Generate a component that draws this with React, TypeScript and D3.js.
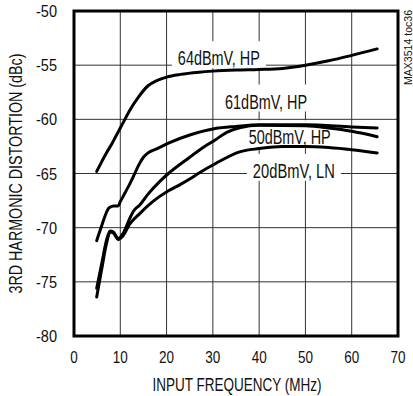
import React from "react";
import * as d3 from "d3";

const xTicks = [0, 10, 20, 30, 40, 50, 60, 70];
const yTicks = [-50, -55, -60, -65, -70, -75, -80];

const s64Freq = [4.9, 6, 7, 8, 9, 10, 11, 12, 14, 16, 18, 20, 23, 27, 30, 35, 40, 45, 50, 55, 60, 65.5];
const s64Val = [-64.8, -63.9, -63.1, -62.4, -61.6, -60.8, -60.0, -59.2, -57.9, -56.9, -56.4, -56.1, -55.85, -55.65, -55.55, -55.45, -55.4, -55.3, -55.0, -54.6, -54.1, -53.5];

const s61Freq = [4.9, 6, 7, 7.5, 8.5, 9.5, 10, 11, 12, 12.8, 14, 15, 16, 18, 20.4, 25, 30.5, 35, 40, 50, 60, 65.5];
const s61Val = [-71.2, -69.8, -68.6, -68.2, -68.0, -68.0, -67.6, -66.8, -66.0, -65.3, -64.2, -63.5, -63.1, -62.7, -62.2, -61.45, -60.85, -60.65, -60.5, -60.5, -60.7, -60.8];

const s50Freq = [4.9, 6, 7, 7.8, 8.5, 9.6, 10.5, 12, 12.8, 14.2, 16, 18.6, 20.4, 25, 27.2, 30.5, 33, 36, 40, 50, 55, 60, 65.5];
const s50Val = [-75.6, -73.3, -71.2, -70.3, -70.4, -71.0, -70.6, -69.2, -68.5, -67.9, -66.9, -65.7, -65.0, -63.5, -62.8, -61.9, -61.2, -60.75, -60.55, -60.6, -60.8, -61.1, -61.6];

const s20Freq = [4.9, 6, 7, 7.8, 8.5, 9.6, 10.5, 12, 14.2, 17, 20.4, 23, 25, 27.2, 30.5, 35.8, 40, 45, 50, 55, 60, 65.5];
const s20Val = [-76.4, -73.8, -71.5, -70.4, -70.5, -71.1, -70.8, -69.7, -68.7, -67.6, -66.6, -66.0, -65.5, -64.9, -64.1, -63.0, -62.7, -62.5, -62.5, -62.6, -62.8, -63.1];

const seriesList = [
  { name: "64dBmV, HP", freq: s64Freq, val: s64Val },
  { name: "61dBmV, HP", freq: s61Freq, val: s61Val },
  { name: "50dBmV, HP", freq: s50Freq, val: s50Val },
  { name: "20dBmV, LN", freq: s20Freq, val: s20Val },
];

const labelNames = ["64dBmV, HP", "61dBmV, HP", "50dBmV, HP", "20dBmV, LN"];
const labelFreq = [31.3, 41.5, 46.6, 47.5];
const labelVal = [-55.0, -59.0, -62.3, -65.4];

const FONT = "'Liberation Sans Narrow', 'Arial Narrow', 'Liberation Sans', Arial, sans-serif";

function tickWidth(t: number) {
  const s = String(t);
  let w = 0;
  for (const c of s) w += c === "-" ? 6 : 7.5;
  return w;
}

export default function App() {
  const W = 413, H = 396;
  const left = 74, top = 11, pw = 324, ph = 325;
  const x = d3.scaleLinear().domain([0, 70]).range([left, left + pw]);
  const y = d3.scaleLinear().domain([-80, -50]).range([top + ph, top]);
  const line = d3
    .line<[number, number]>()
    .x((d) => x(d[0]))
    .y((d) => y(d[1]))
    .curve(d3.curveMonotoneX);

  return (
    <svg width={W} height={H} style={{ position: "absolute", left: 0, top: 0, background: "#fff" }}>
      <rect x={0} y={0} width={W} height={H} fill="#fff" />
      {xTicks.slice(1, -1).map((t) => (
        <line key={"gx" + t} x1={x(t)} x2={x(t)} y1={top} y2={top + ph} stroke="#333" strokeWidth={1} />
      ))}
      {yTicks.slice(1, -1).map((t) => (
        <line key={"gy" + t} x1={left} x2={left + pw} y1={y(t)} y2={y(t)} stroke="#333" strokeWidth={1} />
      ))}
      {labelNames.map((n, i) => (
        <rect
          key={"lb" + i}
          x={x(labelFreq[i]) - 47}
          y={y(labelVal[i]) - 24}
          width={94}
          height={27}
          fill="#fff"
        />
      ))}
      {labelNames.map((n, i) => (
        <text
          key={"lt" + i}
          x={x(labelFreq[i])}
          y={y(labelVal[i])}
          textAnchor="middle"
          fontFamily={FONT}
          fontSize={19.5}
          textLength={82}
          lengthAdjust="spacingAndGlyphs"
          fill="#111"
        >
          {n}
        </text>
      ))}
      {seriesList.map((s) => (
        <path
          key={s.name}
          d={line(s.freq.map((f, i) => [f, s.val[i]] as [number, number])) || ""}
          fill="none"
          stroke="#000"
          strokeWidth={3}
          strokeLinecap="round"
          strokeLinejoin="round"
        />
      ))}
      <rect x={left} y={top} width={pw} height={ph} fill="none" stroke="#000" strokeWidth={3} />
      {yTicks.map((t) => (
        <text
          key={"yt" + t}
          x={57}
          y={y(t) + 6}
          textAnchor="end"
          fontFamily={FONT}
          fontSize={17}
          fill="#111"
          textLength={tickWidth(t)}
          lengthAdjust="spacingAndGlyphs"
        >
          {t}
        </text>
      ))}
      {xTicks.map((t) => (
        <text
          key={"xt" + t}
          x={x(t)}
          y={363}
          textAnchor="middle"
          fontFamily={FONT}
          fontSize={17}
          fill="#111"
          textLength={tickWidth(t)}
          lengthAdjust="spacingAndGlyphs"
        >
          {t}
        </text>
      ))}
      <text
        x={237}
        y={391}
        textAnchor="middle"
        fontFamily={FONT}
        fontSize={17.5}
        fill="#111"
        textLength={169}
        lengthAdjust="spacingAndGlyphs"
      >
        INPUT FREQUENCY (MHz)
      </text>
      <text
        transform={`translate(22, ${y(-65)}) rotate(-90)`}
        textAnchor="middle"
        fontFamily={FONT}
        fontSize={17.5}
        fill="#111"
        textLength={240}
        lengthAdjust="spacingAndGlyphs"
      >
        3RD HARMONIC DISTORTION (dBc)
      </text>
      <text
        transform={`translate(412, 10) rotate(-90)`}
        textAnchor="end"
        fontFamily={FONT}
        fontSize={10}
        fill="#111"
        textLength={75}
        lengthAdjust="spacingAndGlyphs"
      >
        MAX3514 toc36
      </text>
    </svg>
  );
}
